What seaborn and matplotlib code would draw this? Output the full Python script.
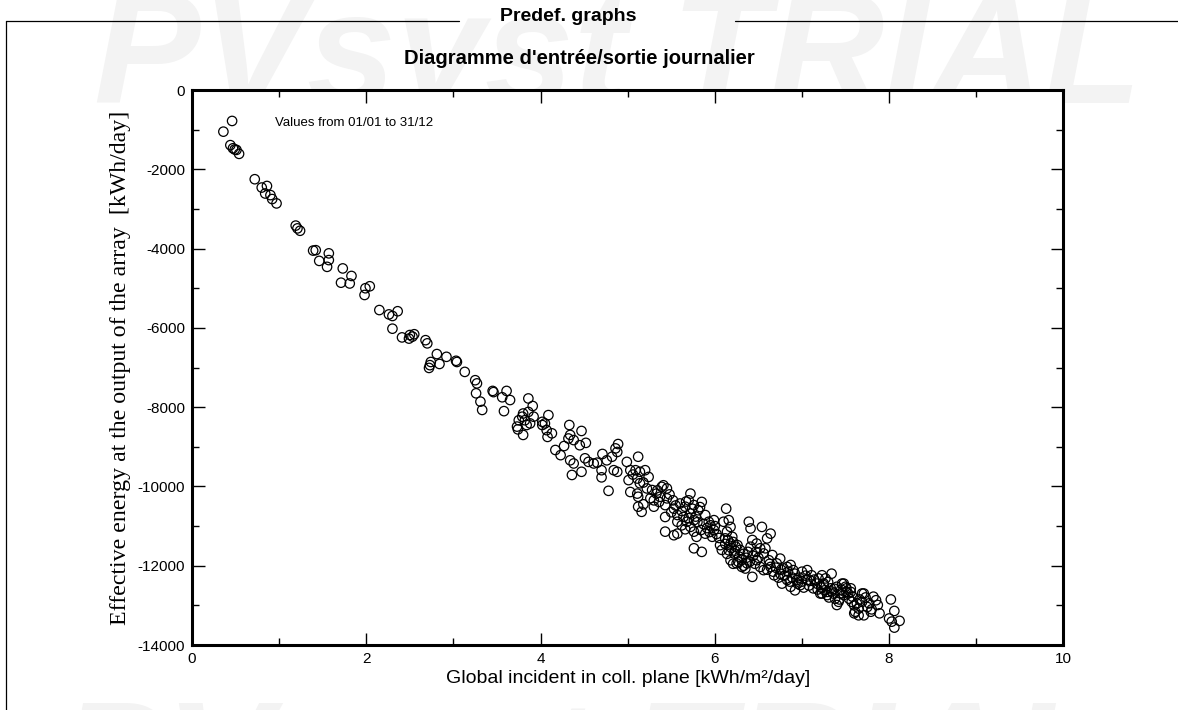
import matplotlib
matplotlib.use("Agg")
import matplotlib.pyplot as plt
from matplotlib.lines import Line2D
from matplotlib.ticker import MultipleLocator
import seaborn as sns
import pandas as pd

# daily values (sparse part + well separated points)
irradiation = [
    0.36, 0.46, 0.44, 0.47, 0.49, 0.51, 0.54, 0.72, 0.80, 0.86, 0.84, 0.90, 0.92, 0.97,
    1.19, 1.21, 1.24, 1.39, 1.42, 1.46, 1.57, 1.57, 1.55, 1.73, 1.83, 1.71, 1.81, 1.99,
    2.04, 1.98, 2.15, 2.26, 2.30, 2.36, 2.30, 2.41, 2.50, 2.53, 2.49, 2.55, 2.68, 2.70,
    2.81, 2.74, 2.73, 2.72, 2.84, 2.92, 3.03, 3.04, 3.13, 3.25, 3.27, 3.26, 3.31, 3.33,
    3.45, 3.46, 3.61, 3.56, 3.65, 3.58, 3.86, 3.91, 3.80, 3.79, 3.75, 3.73, 3.74, 3.80,
    3.84, 3.88, 3.92, 3.86, 3.82, 4.02, 4.05, 4.09, 4.07, 4.13, 4.08, 4.02, 4.17, 4.33,
    4.34, 4.32, 4.47, 4.38, 4.45, 4.52, 4.23, 4.27, 4.34, 4.38, 4.36, 4.47, 4.51, 4.55,
    4.61, 4.65, 4.70, 4.70, 4.71, 4.78, 4.76, 4.82, 4.86, 4.89, 4.88, 4.84, 4.88, 4.99,
    5.03, 5.01, 5.11, 5.12, 5.09, 5.14, 5.20, 5.24, 5.14, 5.03, 5.11, 5.12, 5.12, 5.16,
    5.28, 5.33, 5.30, 5.37, 5.39, 5.45, 5.41, 5.30, 5.36, 5.45, 5.43, 5.43, 5.53, 5.57,
    5.60, 5.66, 5.72, 5.70, 5.76, 5.81, 5.85, 5.72, 5.76, 5.68, 5.64, 5.57, 5.89, 5.93,
    5.99, 5.43, 5.53, 5.57, 5.72, 5.76, 5.79, 5.89, 5.99, 5.97, 5.76, 5.85, 6.13, 6.06,
    6.10, 6.16, 6.18, 6.14, 6.20, 6.12, 6.18, 6.24, 6.16, 6.22, 6.28, 6.18, 6.25, 6.31,
    6.35, 6.37, 6.39, 6.41, 6.54, 6.64, 6.60, 6.43, 6.48, 6.52, 6.41, 6.47, 6.58, 6.56,
    6.43, 6.48, 6.52, 6.56, 6.62, 6.66, 6.71, 6.64, 6.75, 6.68, 6.75, 6.79, 6.83, 6.87,
    6.90, 6.83, 6.77, 6.87, 6.94, 6.98, 6.92, 7.06, 7.06, 7.11, 7.17, 7.19, 7.13, 7.25,
    7.34, 7.21, 7.29, 7.40, 7.48, 7.51, 7.44, 7.56, 7.69, 7.82, 7.23, 7.27, 7.30, 7.25,
    7.33, 7.23, 7.29, 7.36, 7.38, 7.42, 7.40, 7.46, 7.50, 7.56, 7.51, 7.48, 7.54, 7.57,
    7.63, 7.65, 7.61, 7.71, 7.69, 7.75, 7.79, 7.85, 7.87, 7.89, 7.71, 7.60, 7.65, 8.02,
    8.06, 8.00, 8.03, 8.12, 8.06,
]
energy = [
    -1050, -780, -1390, -1470, -1500, -1510, -1610, -2250, -2460, -2420, -2610, -2650, -2750, -2860,
    -3420, -3490, -3550, -4050, -4040, -4310, -4120, -4290, -4460, -4500, -4690, -4860, -4880, -5000,
    -4950, -5170, -5550, -5660, -5700, -5580, -6020, -6240, -6180, -6220, -6270, -6160, -6310, -6390,
    -6660, -6860, -6940, -7010, -6910, -6730, -6830, -6860, -7110, -7320, -7400, -7650, -7860, -8070,
    -7590, -7620, -7590, -7750, -7820, -8100, -7780, -7970, -8160, -8240, -8330, -8490, -8560, -8700,
    -8450, -8410, -8240, -8120, -8330, -8450, -8410, -8200, -8580, -8660, -8750, -8370, -9080, -8450,
    -8700, -8790, -8600, -8830, -8960, -8900, -9210, -8980, -9340, -9420, -9710, -9630, -9290, -9380,
    -9420, -9400, -9590, -9770, -9180, -10110, -9340, -9250, -9040, -8930, -9130, -9590, -9630, -9380,
    -9590, -9840, -9800, -9250, -9590, -9630, -9590, -9760, -9920, -10140, -10180, -10260, -10510, -10640,
    -10090, -10180, -10350, -10260, -10010, -10050, -9970, -10510, -10390, -10300, -10470, -10770, -10560, -10720,
    -10430, -10510, -10180, -10350, -10470, -10600, -10390, -10680, -10850, -10890, -10770, -10890, -10720, -10890,
    -10850, -11140, -11230, -11190, -11020, -11140, -11270, -11190, -11100, -11270, -11560, -11650, -10560, -11480,
    -10890, -10850, -11020, -11140, -11270, -11310, -11440, -11520, -11610, -11690, -11770, -11860, -11940, -12030,
    -12070, -11940, -10890, -11060, -11020, -11190, -11310, -11350, -11440, -11560, -11520, -11650, -11560, -11690,
    -12280, -11860, -12030, -12110, -11860, -11730, -11940, -12030, -11820, -12240, -12200, -12070, -12030, -11980,
    -12110, -12360, -12450, -12530, -12360, -12490, -12620, -12110, -12360, -12240, -12450, -12320, -12570, -12490,
    -12200, -12700, -12660, -12530, -12450, -12570, -12700, -12660, -12700, -12780, -12240, -12320, -12410, -12450,
    -12570, -12700, -12740, -12700, -12830, -12910, -12990, -12450, -12530, -12570, -12660, -12740, -12830, -12910,
    -12950, -13080, -13160, -12700, -12910, -13040, -13160, -12870, -12990, -13200, -13250, -13200, -13250, -12850,
    -13140, -13330, -13410, -13390, -13560,
]

# overlapping points in the dense part of the cloud (estimated)
irradiation_dense = [
    5.50, 5.55, 5.62, 5.67, 5.74, 5.78, 5.83, 5.87, 5.91, 5.95, 5.62, 5.66, 5.70, 5.80,
    5.84, 5.94, 6.00, 6.02, 6.12, 6.15, 6.19, 6.21, 6.23, 6.26, 6.29, 6.31, 6.33, 6.36,
    6.38, 6.40, 6.44, 6.46, 6.50, 6.27, 6.21, 6.14, 6.33, 6.05, 6.08, 6.60, 6.63, 6.67,
    6.70, 6.73, 6.76, 6.80, 6.84, 6.86, 6.89, 6.92, 6.95, 6.97, 7.00, 7.02, 7.04, 7.08,
    7.10, 7.14, 7.00, 7.18, 7.22, 7.26, 7.31, 7.34, 7.37, 7.43, 7.45, 7.53, 7.58, 7.60,
    7.66, 7.73, 7.77, 7.80, 5.06, 5.18, 5.22, 5.26, 5.34, 5.48, 5.52, 5.18,
]
energy_dense = [
    -10650, -10480, -10620, -10380, -10560, -10760, -10520, -10950, -11050, -10980, -10980, -11080, -10800, -10900,
    -11100, -11150, -11000, -11200, -11450, -11350, -11550, -11400, -11620, -11480, -11600, -11850, -11700, -11800,
    -11650, -11900, -11750, -11950, -11800, -11900, -11950, -11700, -12000, -11300, -11600, -12100, -11950, -12150,
    -12050, -12300, -12100, -12250, -12150, -12400, -12300, -12200, -12450, -12300, -12400, -12550, -12250, -12500,
    -12380, -12350, -12150, -12600, -12550, -12620, -12800, -12650, -12580, -12850, -12600, -12700, -12780, -13000,
    -12850, -12800, -12950, -13100, -9700, -9900, -10050, -10300, -10100, -10200, -10350, -10450,
]

df = pd.DataFrame({"GlobInc": irradiation + irradiation_dense,
                   "EArray": energy + energy_dense})

sns.set_theme(style="ticks")
plt.rcParams["font.family"] = ["Liberation Sans", "DejaVu Sans"]
plt.rcParams["axes.unicode_minus"] = False
plt.rcParams["text.color"] = "black"
plt.rcParams["axes.labelcolor"] = "black"
plt.rcParams["xtick.color"] = "black"
plt.rcParams["ytick.color"] = "black"

fig = plt.figure(figsize=(11.78, 7.10), dpi=100)

# watermark (behind everything)
fig.text(0.08, 0.855, "PVsyst TRIAL", fontsize=115, fontweight="bold", style="italic",
         color="#f3f3f3", ha="left", va="baseline", zorder=-5)
fig.text(0.05, -0.145, "PVsyst TRIAL", fontsize=115, fontweight="bold", style="italic",
         color="#f3f3f3", ha="left", va="baseline", zorder=-5)

# page frame and section header
fig.add_artist(Line2D([0.005, 0.390], [0.971, 0.971], color="black", lw=0.9))
fig.add_artist(Line2D([0.624, 1.0], [0.971, 0.971], color="black", lw=0.9))
fig.add_artist(Line2D([0.005, 0.005], [0.0, 0.971], color="black", lw=0.9))
fig.text(0.482, 0.977, "Predef. graphs", fontsize=14, fontweight="bold", ha="center", va="center")
fig.text(0.492, 0.918, "Diagramme d'entrée/sortie journalier", fontsize=14.5, fontweight="bold",
         ha="center", va="center")

ax = fig.add_axes([0.163, 0.0915, 0.7397, 0.7817])
ax.set_zorder(2)
ax.set_facecolor("white")
sns.scatterplot(data=df, x="GlobInc", y="EArray", ax=ax, marker="o", s=46,
                facecolor="none", edgecolor="black", linewidth=0.9, legend=False)

ax.set_xlim(0, 10)
ax.set_ylim(-14000, 0)
ax.xaxis.set_major_locator(MultipleLocator(2))
ax.xaxis.set_minor_locator(MultipleLocator(1))
ax.yaxis.set_major_locator(MultipleLocator(2000))
ax.yaxis.set_minor_locator(MultipleLocator(1000))
ax.tick_params(which="both", direction="in", top=True, right=True, color="black")
ax.tick_params(which="major", length=9, width=1.0, labelsize=11, pad=5)
ax.tick_params(which="minor", length=5, width=1.0)
for side in ax.spines.values():
    side.set_linewidth(2.2)
    side.set_color("black")

ax.set_xlabel("Global incident in coll. plane [kWh/m²/day]", fontsize=14, labelpad=3)
ax.set_ylabel("Effective energy at the output of the array  [kWh/day]", fontsize=17.2,
              family=["Liberation Serif", "DejaVu Serif"], labelpad=5)
ax.text(0.95, -830, "Values from 01/01 to 31/12", fontsize=9.5, ha="left", va="center")

fig.savefig("out.png", dpi=100)
